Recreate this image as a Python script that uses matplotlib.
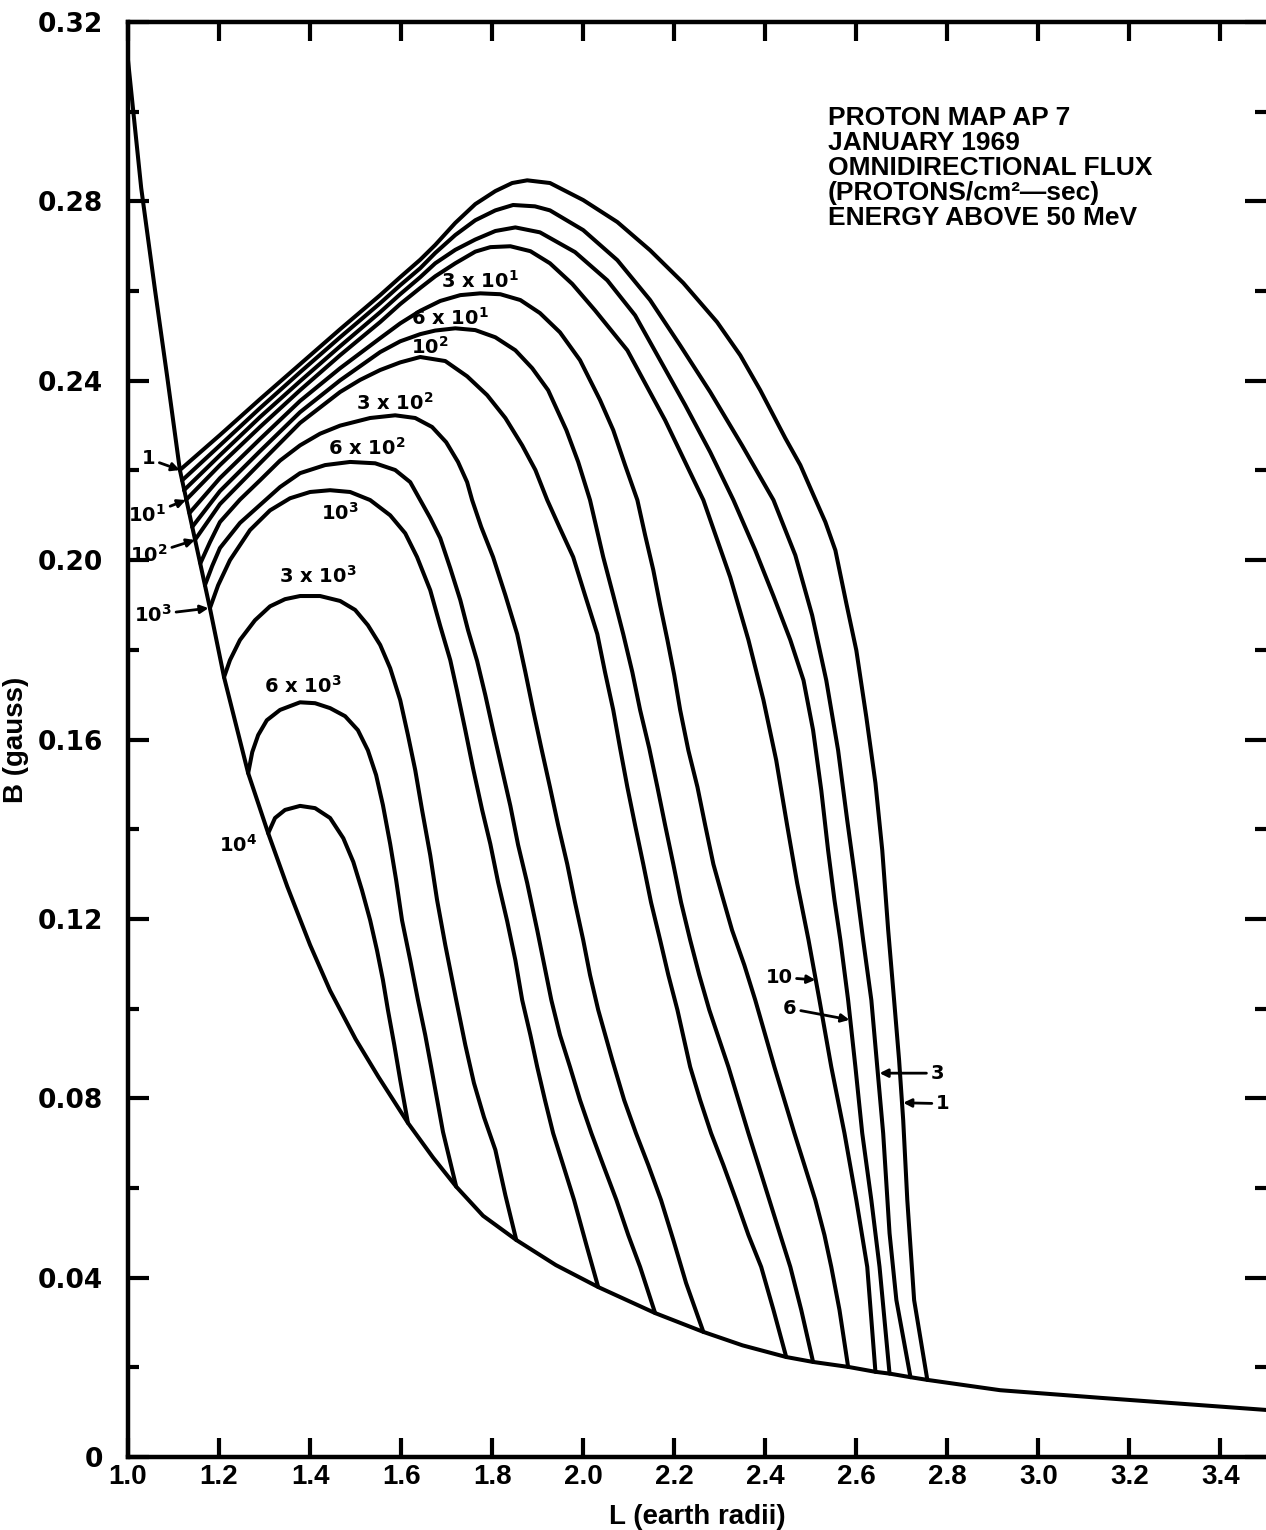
import matplotlib
matplotlib.use('Agg')
import matplotlib.pyplot as plt
import numpy as np

# lower envelope (B at the atmospheric cut-off)
edge_L = [1.000, 1.029, 1.059, 1.086, 1.114, 1.180, 1.211, 1.264, 1.308, 1.350, 1.400, 1.444, 1.500,
          1.550, 1.615, 1.670, 1.721, 1.780, 1.853, 1.940, 2.033, 2.158, 2.264, 2.350, 2.446, 2.505,
          2.582, 2.642, 2.673, 2.719, 2.756, 2.916, 3.136, 3.500]
edge_B = [0.3115, 0.2830, 0.2605, 0.2410, 0.2201, 0.1893, 0.1739, 0.1525, 0.1391, 0.1272, 0.1142, 0.1040,
          0.0932, 0.0848, 0.0745, 0.0668, 0.0603, 0.0538, 0.0484, 0.0428, 0.0379, 0.0321, 0.0279, 0.0249,
          0.0223, 0.0212, 0.0201, 0.0190, 0.0186, 0.0178, 0.0172, 0.0149, 0.0132, 0.0105]

# flux contours (L in earth radii, B in gauss)
f1_L = [1.114, 1.202, 1.290, 1.378, 1.466, 1.554, 1.598, 1.642, 1.675, 1.719, 1.763, 1.807, 1.844, 1.877,
        1.927, 2.000, 2.075, 2.147, 2.220, 2.294, 2.345, 2.389, 2.444, 2.477, 2.505, 2.532, 2.554, 2.578,
        2.600, 2.622, 2.642, 2.657, 2.670, 2.683, 2.694, 2.703, 2.712, 2.727, 2.756]
f1_B = [0.2201, 0.2279, 0.2359, 0.2437, 0.2515, 0.2591, 0.2631, 0.2670, 0.2703, 0.2752, 0.2794, 0.2823,
        0.2841, 0.2847, 0.2841, 0.2803, 0.2754, 0.2691, 0.2618, 0.2531, 0.2457, 0.2379, 0.2272, 0.2212,
        0.2147, 0.2085, 0.2022, 0.1904, 0.1799, 0.1650, 0.1503, 0.1353, 0.1175, 0.1019, 0.0885, 0.0751,
        0.0573, 0.0350, 0.0172]

f3_L = [1.119, 1.202, 1.290, 1.378, 1.466, 1.554, 1.598, 1.642, 1.675, 1.719, 1.763, 1.807, 1.846, 1.894,
        1.927, 2.000, 2.075, 2.147, 2.213, 2.279, 2.349, 2.418, 2.466, 2.503, 2.534, 2.560, 2.580, 2.598,
        2.615, 2.633, 2.646, 2.659, 2.673, 2.688, 2.719]
f3_B = [0.2178, 0.2256, 0.2339, 0.2419, 0.2497, 0.2573, 0.2613, 0.2651, 0.2685, 0.2725, 0.2758, 0.2780,
        0.2792, 0.2789, 0.2780, 0.2736, 0.2669, 0.2580, 0.2479, 0.2375, 0.2256, 0.2134, 0.2011, 0.1877,
        0.1732, 0.1576, 0.1420, 0.1287, 0.1153, 0.1019, 0.0870, 0.0722, 0.0499, 0.0350, 0.0178]

f6_L = [1.123, 1.202, 1.290, 1.378, 1.466, 1.554, 1.598, 1.642, 1.675, 1.719, 1.763, 1.807, 1.851, 1.905,
        1.982, 2.053, 2.114, 2.169, 2.224, 2.279, 2.330, 2.378, 2.418, 2.455, 2.484, 2.505, 2.523, 2.538,
        2.552, 2.565, 2.582, 2.598, 2.613, 2.633, 2.651, 2.673]
f6_B = [0.2156, 0.2234, 0.2319, 0.2399, 0.2477, 0.2553, 0.2593, 0.2631, 0.2662, 0.2692, 0.2715, 0.2734,
        0.2742, 0.2731, 0.2687, 0.2624, 0.2546, 0.2446, 0.2346, 0.2241, 0.2134, 0.2022, 0.1920, 0.1822,
        0.1732, 0.1621, 0.1487, 0.1353, 0.1242, 0.1153, 0.1019, 0.0870, 0.0722, 0.0573, 0.0424, 0.0186]

f10_L = [1.127, 1.202, 1.290, 1.378, 1.466, 1.554, 1.598, 1.642, 1.675, 1.719, 1.763, 1.796, 1.840, 1.884,
         1.927, 1.976, 2.026, 2.097, 2.180, 2.264, 2.323, 2.363, 2.396, 2.424, 2.448, 2.470, 2.495, 2.519,
         2.545, 2.574, 2.600, 2.624, 2.642]
f10_B = [0.2134, 0.2212, 0.2297, 0.2379, 0.2457, 0.2531, 0.2571, 0.2607, 0.2633, 0.2662, 0.2688, 0.2698,
         0.2700, 0.2689, 0.2662, 0.2616, 0.2557, 0.2468, 0.2312, 0.2134, 0.1962, 0.1822, 0.1688, 0.1554,
         0.1409, 0.1280, 0.1153, 0.1019, 0.0870, 0.0722, 0.0573, 0.0424, 0.0190]

f30_L = [1.135, 1.202, 1.290, 1.378, 1.466, 1.554, 1.598, 1.642, 1.686, 1.730, 1.774, 1.818, 1.862, 1.905,
         1.949, 1.993, 2.037, 2.066, 2.092, 2.119, 2.136, 2.154, 2.169, 2.185, 2.200, 2.213, 2.231, 2.251,
         2.268, 2.286, 2.305, 2.327, 2.354, 2.378, 2.400, 2.420, 2.442, 2.464, 2.486, 2.510, 2.530, 2.545,
         2.563, 2.582]
f30_B = [0.2105, 0.2183, 0.2270, 0.2355, 0.2428, 0.2495, 0.2528, 0.2556, 0.2578, 0.2591, 0.2595, 0.2593,
         0.2580, 0.2551, 0.2508, 0.2446, 0.2357, 0.2290, 0.2212, 0.2134, 0.2056, 0.1978, 0.1900, 0.1822,
         0.1744, 0.1666, 0.1576, 0.1494, 0.1409, 0.1322, 0.1253, 0.1175, 0.1097, 0.1019, 0.0941, 0.0870,
         0.0796, 0.0722, 0.0651, 0.0573, 0.0495, 0.0424, 0.0328, 0.0201]

f60_L = [1.141, 1.202, 1.290, 1.378, 1.466, 1.554, 1.598, 1.642, 1.675, 1.719, 1.763, 1.807, 1.851, 1.888,
         1.923, 1.963, 1.989, 2.015, 2.044, 2.066, 2.088, 2.108, 2.125, 2.145, 2.163, 2.180, 2.198, 2.215,
         2.235, 2.255, 2.277, 2.319, 2.341, 2.363, 2.385, 2.409, 2.433, 2.455, 2.479, 2.505]
f60_B = [0.2074, 0.2154, 0.2243, 0.2330, 0.2401, 0.2464, 0.2488, 0.2504, 0.2512, 0.2517, 0.2513, 0.2497,
         0.2468, 0.2428, 0.2379, 0.2290, 0.2219, 0.2134, 0.2007, 0.1922, 0.1835, 0.1750, 0.1666, 0.1581,
         0.1494, 0.1409, 0.1322, 0.1237, 0.1153, 0.1075, 0.0997, 0.0870, 0.0796, 0.0722, 0.0651, 0.0573,
         0.0495, 0.0424, 0.0328, 0.0212]

f100_L = [1.147, 1.202, 1.290, 1.378, 1.466, 1.510, 1.554, 1.598, 1.642, 1.697, 1.745, 1.789, 1.829, 1.866,
          1.895, 1.921, 1.949, 1.978, 2.004, 2.031, 2.048, 2.066, 2.081, 2.097, 2.114, 2.132, 2.149, 2.169,
          2.187, 2.207, 2.235, 2.257, 2.281, 2.308, 2.336, 2.363, 2.391, 2.418, 2.446]
f100_B = [0.2045, 0.2125, 0.2216, 0.2306, 0.2375, 0.2402, 0.2424, 0.2441, 0.2453, 0.2444, 0.2410, 0.2368,
          0.2317, 0.2256, 0.2201, 0.2134, 0.2071, 0.2007, 0.1922, 0.1835, 0.1750, 0.1666, 0.1581, 0.1494,
          0.1409, 0.1322, 0.1237, 0.1153, 0.1075, 0.0997, 0.0870, 0.0796, 0.0722, 0.0651, 0.0573, 0.0495,
          0.0424, 0.0328, 0.0223]

f300_L = [1.159, 1.180, 1.202, 1.246, 1.290, 1.334, 1.378, 1.422, 1.466, 1.532, 1.587, 1.631, 1.668, 1.699,
          1.725, 1.745, 1.756, 1.776, 1.802, 1.829, 1.855, 1.873, 1.890, 1.908, 1.927, 1.945, 1.965, 1.982,
          2.000, 2.015, 2.033, 2.064, 2.090, 2.116, 2.143, 2.171, 2.198, 2.226, 2.264]
f300_B = [0.1993, 0.2040, 0.2085, 0.2135, 0.2178, 0.2222, 0.2256, 0.2282, 0.2300, 0.2317, 0.2323, 0.2317,
          0.2297, 0.2263, 0.2219, 0.2174, 0.2134, 0.2074, 0.2007, 0.1922, 0.1835, 0.1750, 0.1666, 0.1581,
          0.1494, 0.1409, 0.1322, 0.1237, 0.1153, 0.1075, 0.0997, 0.0885, 0.0796, 0.0722, 0.0651, 0.0573,
          0.0484, 0.0388, 0.0279]

f600_L = [1.169, 1.185, 1.202, 1.246, 1.290, 1.334, 1.378, 1.433, 1.488, 1.543, 1.587, 1.620, 1.642, 1.664,
          1.686, 1.708, 1.730, 1.747, 1.767, 1.785, 1.802, 1.822, 1.840, 1.857, 1.877, 1.899, 1.930, 1.949,
          1.971, 1.993, 2.018, 2.044, 2.073, 2.099, 2.125, 2.158]
f600_B = [0.1944, 0.1987, 0.2027, 0.2083, 0.2123, 0.2163, 0.2194, 0.2212, 0.2219, 0.2216, 0.2201, 0.2174,
          0.2134, 0.2094, 0.2049, 0.1982, 0.1911, 0.1844, 0.1775, 0.1699, 0.1621, 0.1532, 0.1452, 0.1365,
          0.1280, 0.1175, 0.1019, 0.0941, 0.0870, 0.0796, 0.0722, 0.0651, 0.0573, 0.0495, 0.0424, 0.0321]

f1e3_L = [1.180, 1.198, 1.224, 1.268, 1.312, 1.356, 1.400, 1.444, 1.488, 1.532, 1.576, 1.609, 1.635, 1.664,
          1.686, 1.708, 1.723, 1.741, 1.758, 1.778, 1.796, 1.813, 1.833, 1.851, 1.866, 1.884, 1.899, 1.916,
          1.934, 1.956, 1.980, 2.007, 2.033]
f1e3_B = [0.1893, 0.1944, 0.2000, 0.2067, 0.2111, 0.2138, 0.2152, 0.2156, 0.2152, 0.2134, 0.2100, 0.2060,
          0.2007, 0.1933, 0.1853, 0.1777, 0.1708, 0.1621, 0.1536, 0.1443, 0.1367, 0.1282, 0.1195, 0.1108,
          0.1019, 0.0941, 0.0870, 0.0796, 0.0722, 0.0651, 0.0573, 0.0473, 0.0379]

f3e3_L = [1.211, 1.224, 1.246, 1.279, 1.312, 1.345, 1.378, 1.422, 1.466, 1.499, 1.527, 1.554, 1.576, 1.598,
          1.615, 1.631, 1.646, 1.664, 1.679, 1.697, 1.721, 1.741, 1.760, 1.782, 1.807, 1.829, 1.853]
f3e3_B = [0.1739, 0.1777, 0.1822, 0.1866, 0.1897, 0.1913, 0.1920, 0.1920, 0.1909, 0.1889, 0.1855, 0.1811,
          0.1759, 0.1688, 0.1610, 0.1532, 0.1443, 0.1342, 0.1242, 0.1142, 0.1019, 0.0919, 0.0834, 0.0758,
          0.0685, 0.0584, 0.0484]

f6e3_L = [1.264, 1.273, 1.286, 1.305, 1.334, 1.378, 1.411, 1.444, 1.477, 1.505, 1.527, 1.545, 1.560, 1.576,
          1.589, 1.602, 1.620, 1.637, 1.653, 1.666, 1.692, 1.721]
f6e3_B = [0.1525, 0.1572, 0.1610, 0.1643, 0.1666, 0.1683, 0.1681, 0.1670, 0.1652, 0.1621, 0.1576, 0.1521,
          0.1454, 0.1367, 0.1287, 0.1197, 0.1108, 0.1019, 0.0941, 0.0870, 0.0725, 0.0603]

f1e4_L = [1.308, 1.323, 1.345, 1.378, 1.411, 1.444, 1.473, 1.495, 1.514, 1.532, 1.547, 1.560, 1.571, 1.585,
          1.598, 1.615]
f1e4_B = [0.1391, 0.1425, 0.1443, 0.1452, 0.1447, 0.1425, 0.1380, 0.1327, 0.1264, 0.1197, 0.1130, 0.1064,
          0.0997, 0.0919, 0.0841, 0.0745]

contours = [(f1_L, f1_B), (f3_L, f3_B), (f6_L, f6_B), (f10_L, f10_B), (f30_L, f30_B), (f60_L, f60_B),
            (f100_L, f100_B), (f300_L, f300_B), (f600_L, f600_B), (f1e3_L, f1e3_B), (f3e3_L, f3e3_B),
            (f6e3_L, f6e3_B), (f1e4_L, f1e4_B)]

xticks = [1.0, 1.2, 1.4, 1.6, 1.8, 2.0, 2.2, 2.4, 2.6, 2.8, 3.0, 3.2, 3.4]
yticks = [0, 0.04, 0.08, 0.12, 0.16, 0.20, 0.24, 0.28, 0.32]
ylabels = ['0', '0.04', '0.08', '0.12', '0.16', '0.20', '0.24', '0.28', '0.32']

fig = plt.figure(figsize=(12.66, 15.30), dpi=100)
ax = fig.add_axes([0.1011, 0.0477, 0.8989, 0.9379])

lw = 2.9
ax.plot(edge_L, edge_B, color='black', lw=lw, solid_joinstyle='round', solid_capstyle='round')
for cl, cb in contours:
    ax.plot(cl, cb, color='black', lw=lw, solid_joinstyle='round', solid_capstyle='round')

ax.set_xlim(1.0, 3.5)
ax.set_ylim(0, 0.32)

ax.set_xticks(xticks)
ax.set_xticklabels(['%.1f' % v for v in xticks], fontfamily='Liberation Sans',
                   fontweight='bold', fontsize=20)
ax.set_yticks(yticks)
ax.set_yticklabels(ylabels, fontfamily='DejaVu Sans', fontweight='bold', fontsize=19)
ax.set_yticks(np.arange(0.02, 0.32, 0.04), minor=True)

ax.tick_params(axis='both', which='both', direction='in', top=True, right=True, width=3)
ax.tick_params(axis='y', which='major', length=15, pad=18)
ax.tick_params(axis='y', which='minor', length=8)
ax.tick_params(axis='x', which='major', length=14, pad=5)

for s in ['left', 'bottom', 'top']:
    ax.spines[s].set_linewidth(3.2)
ax.spines['right'].set_visible(False)

ax.set_xlabel('L (earth radii)', fontfamily='Liberation Sans', fontweight='bold', fontsize=20, labelpad=10)
ax.set_ylabel('B (gauss)', fontfamily='Liberation Sans', fontweight='bold', fontsize=20, labelpad=6)

# caption block
caption = ['PROTON MAP AP 7', 'JANUARY 1969', 'OMNIDIRECTIONAL FLUX',
           '(PROTONS/cm\u00b2\u2014sec)', 'ENERGY ABOVE 50 MeV']
for i, line in enumerate(caption):
    ax.text(0.6152, 0.9331 - i * 0.01742, line, transform=ax.transAxes, ha='left', va='center',
            fontfamily='Liberation Sans', fontweight='bold', fontsize=19)

lab = dict(fontfamily='DejaVu Sans', fontweight='bold', fontsize=14, ha='center', va='center')
ax.text(1.772, 0.2622, r'3 x 10$^{\mathbf{1}}$', **lab)
ax.text(1.708, 0.2541, r'6 x 10$^{\mathbf{1}}$', **lab)
ax.text(1.663, 0.2475, r'10$^{\mathbf{2}}$', **lab)
ax.text(1.587, 0.2350, r'3 x 10$^{\mathbf{2}}$', **lab)
ax.text(1.525, 0.2250, r'6 x 10$^{\mathbf{2}}$', **lab)
ax.text(1.466, 0.2105, r'10$^{\mathbf{3}}$', **lab)
ax.text(1.418, 0.1966, r'3 x 10$^{\mathbf{3}}$', **lab)
ax.text(1.385, 0.1720, r'6 x 10$^{\mathbf{3}}$', **lab)
ax.text(1.242, 0.1365, r'10$^{\mathbf{4}}$', **lab)

arr = dict(arrowstyle='-|>', lw=2, color='black', mutation_scale=12, shrinkA=1, shrinkB=0)
ann = dict(fontfamily='DejaVu Sans', fontweight='bold', fontsize=14, ha='center', va='center',
           arrowprops=arr)
ax.annotate('1', xy=(1.114, 0.2201), xytext=(1.045, 0.2226), **ann)
ax.annotate(r'10$^{\mathbf{1}}$', xy=(1.127, 0.2134), xytext=(1.042, 0.2100), **ann)
ax.annotate(r'10$^{\mathbf{2}}$', xy=(1.147, 0.2045), xytext=(1.046, 0.2012), **ann)
ax.annotate(r'10$^{\mathbf{3}}$', xy=(1.177, 0.1893), xytext=(1.055, 0.1878), **ann)
ax.annotate('10', xy=(2.510, 0.1064), xytext=(2.430, 0.1070), **ann)
ax.annotate('6', xy=(2.585, 0.0975), xytext=(2.454, 0.1000), **ann)
ax.annotate('3', xy=(2.651, 0.0856), xytext=(2.778, 0.0856), **ann)
ax.annotate('1', xy=(2.703, 0.0790), xytext=(2.790, 0.0788), **ann)

fig.savefig('out.png', dpi=100)
